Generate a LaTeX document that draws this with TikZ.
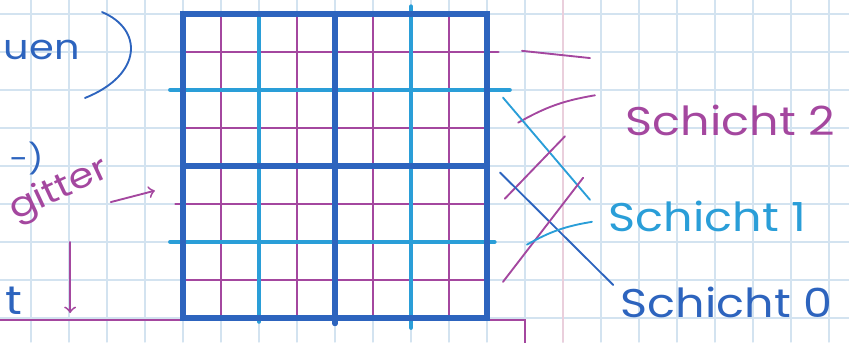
\documentclass[tikz,border=0pt]{standalone}
\usepackage{fontspec}
\newfontfamily\handfont{Poppins}
\usepackage{xcolor}
\usepackage{tikz}
\definecolor{inkdark}{HTML}{2D64BE}
\definecolor{inklight}{HTML}{2A9ED8}
\definecolor{inkmagenta}{HTML}{A4479F}
\definecolor{papergrid}{HTML}{D3E3F0}
\definecolor{papermargin}{HTML}{EACFDC}

\begin{document}
\begin{tikzpicture}[x=0.5cm,y=0.5cm,line cap=round,
  schicht0/.style={inkdark,line width=1.9pt},
  schicht1/.style={inklight,line width=1.5pt},
  schicht2/.style={inkmagenta,line width=0.9pt},
  pen/.style={line width=0.7pt},
  hand/.style={font=\handfont\fontsize{15}{15}\selectfont,xscale=1.15}]
  \useasboundingbox (-0.816,-0.632) rectangle (21.526,8.368);
  \foreach \spalte in {0,...,21}
    \draw[papergrid,line width=0.5pt] (\spalte,-0.632) -- (\spalte,8.368);
  \foreach \zeile in {0,...,8}
    \draw[papergrid,line width=0.5pt] (-0.816,\zeile) -- (21.526,\zeile);
  \draw[papermargin,line width=0.6pt] (14,-0.632) -- (14,8.368);
  \foreach \spalte in {5,7,9,11}
    \draw[schicht2] (\spalte,0) -- (\spalte,8);
  \foreach \zeile in {1,5}
    \draw[schicht2] (4,\zeile) -- (12,\zeile);
  \draw[schicht2] (3.8,3) -- (12,3);
  \draw[schicht2] (4,7) -- (12.3,7);
  \draw[schicht2] (-0.82,-0.05) -- (13,-0.05) -- (13,-0.65);
  \draw[schicht1] (6,-0.1) -- (6,8);
  \draw[schicht1] (10,-0.26) -- (10,8.2);
  \draw[schicht1] (3.66,6) -- (12.6,6);
  \draw[schicht1] (3.66,2) -- (12.2,2);
  \draw[schicht0] (4,0) rectangle (12,8);
  \draw[schicht0] (8,-0.15) -- (8,8);
  \draw[schicht0] (4,4) -- (12,4);
  \node[hand,text=inkmagenta] (s2) at (18.4,5.2) {Schicht 2};
  \node[hand,text=inklight] (s1) at (17.8,2.66) {Schicht 1};
  \node[hand,text=inkdark] (s0) at (18.3,0.42) {Schicht 0};
  \draw[inkmagenta,pen] (12.92,7.03) -- (14.71,6.84);
  \draw[inkmagenta,pen] (12.82,5.14) to[bend left=10] (14.84,5.86);
  \draw[inklight,pen] (12.42,5.80) -- (14.71,3.11);
  \draw[inkmagenta,pen] (12.47,3.14) -- (14.05,4.78);
  \draw[inkdark,pen] (12.34,3.83) -- (15.32,0.87);
  \draw[inkmagenta,pen] (12.42,0.95) -- (14.53,3.69);
  \draw[inklight,pen] (13.05,1.93) to[bend left=10] (14.76,2.53);
  \node[hand,text=inkdark,anchor=west,font=\handfont\fontsize{13}{13}\selectfont] (wort) at (-1.0,7.05) {uen};
  \draw[inkdark,pen] (1.87,8.05) .. controls (2.95,7.6) and (2.95,6.4) .. (1.42,5.79);
  \node[hand,text=inkdark,anchor=west,font=\handfont\fontsize{11}{11}\selectfont] (klammer) at (-0.85,4.2) {-)};
  \node[rotate=25,hand,text=inkmagenta,font=\handfont\fontsize{13}{13}\selectfont,xscale=1] (gitter) at (0.75,3.35) {gitter};
  \draw[inkmagenta,pen,->] (2.1,3.05) -- (3.26,3.35);
  \draw[inkmagenta,pen,->] (1.03,2.0) -- (1.03,0.13);
  \node[hand,text=inkdark] (rest) at (-0.45,0.45) {t};
\end{tikzpicture}
\end{document}
